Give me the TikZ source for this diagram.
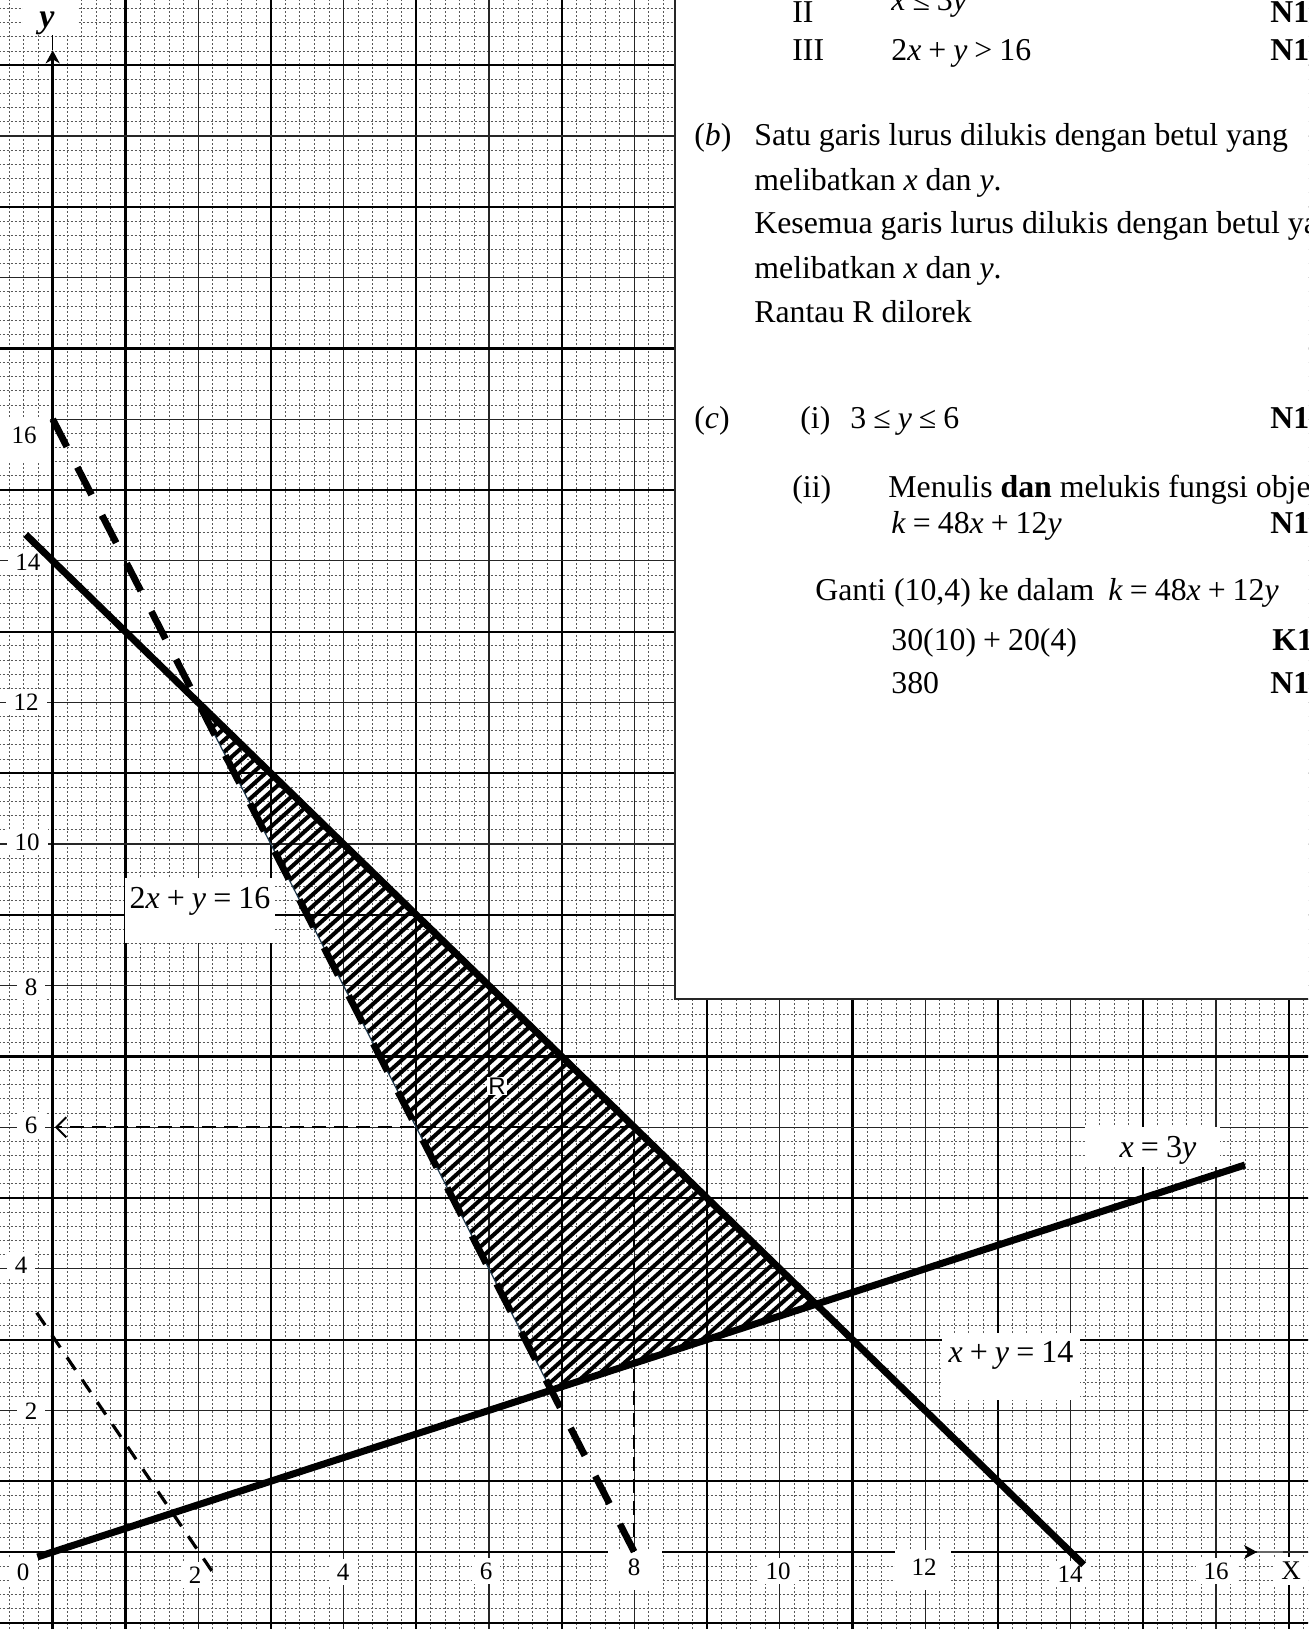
\documentclass[tikz,border=0pt]{standalone}
\usepackage{fontspec}
\setmainfont{Liberation Serif}
\newfontfamily\labsans{Liberation Sans}
\usetikzlibrary{arrows.meta}
\newcommand{\vv}[1]{\textit{#1}}
\newcommand{\gq}{\hspace{0.22em}}
\tikzset{
  G/.style={shift={(52.7,1552)},x=36.35pt,y=35.4pt},
  minor/.style={black!65, line width=0.4pt, dash pattern=on 1.1pt off 0.9pt},
  majthick/.style={black, line width=1.1pt},
  majthin/.style={black!85, line width=0.6pt},
  axisline/.style={black, line width=1.3pt},
  heavy/.style={black, line width=3.5pt},
  heavydash/.style={black, line width=3.4pt, dash pattern=on 15.5pt off 11.5pt},
  thindash/.style={black, line width=1pt, dash pattern=on 7pt off 4pt},
  objdash/.style={black, line width=1.6pt, dash pattern=on 7.5pt off 6pt},
  hatchline/.style={black, line width=2pt},
  tick/.style={fill=white, inner xsep=4pt, inner ysep=2.5pt, font=\fontsize{12.5}{14}\selectfont},
  eqlabel/.style={font=\fontsize{16}{19}\selectfont, inner sep=0pt, anchor=base},
  txt/.style={font=\fontsize{15.9}{19}\selectfont, inner sep=0pt, anchor=base west},
  whitebox/.style={fill=white, draw=none}
}
\begin{document}
\begin{tikzpicture}[x=0.5pt,y=-0.5pt]
\useasboundingbox (0,0) rectangle (1308,1629);
\clip (0,0) rectangle (1308,1629);
\fill[white] (0,0) rectangle (1308,1629);

% ---------- graph paper ----------
\begin{scope}[G]
  \foreach \i in {-3,...,86} \draw[minor] ({\i/5},-1.2) -- ({\i/5},22);
  \foreach \i in {-5,...,109} \draw[minor] (-0.8,{\i/5}) -- (17.4,{\i/5});
  \foreach \k in {1,...,17} {\ifodd\k \draw[majthick] (\k,-1.2) -- (\k,22); \else \draw[majthin] (\k,-1.2) -- (\k,22); \fi}
  \foreach \k in {-1,...,21} {\ifodd\k \draw[majthick] (-0.8,\k) -- (17.4,\k); \else \draw[majthin] (-0.8,\k) -- (17.4,\k); \fi}
\end{scope}

% ---------- answer box ----------
\fill[white] (675,-5) rectangle (1315,999);
\draw[black!85, line width=0.7pt] (675,-5) -- (675,999) -- (1315,999);

% ---------- axes ----------
\begin{scope}[G]
  \draw[axisline,-{Stealth[length=6.5pt,width=7pt,inset=2pt]}] (0,-1.2) -- (0,21.21);
  \draw[black, line width=0.6pt] (0,21.21) -- (0,21.43);
  \draw[axisline,-{Stealth[length=6.5pt,width=7pt,inset=2pt]}] (-0.8,0) -- (16.566,0);
  \draw[black!60, line width=0.8pt] (16.566,0) -- (16.92,0);
\end{scope}

% ---------- white label boxes ----------
\fill[whitebox] (23,0) rectangle (77,35);
\fill[whitebox] (0,418) rectangle (50,463);
\fill[whitebox] (608,1550) rectangle (662,1590);
\fill[whitebox] (895,1550) rectangle (951,1590);
\fill[whitebox] (125,878) rectangle (275,943);
\fill[whitebox] (1085,1127) rectangle (1220,1167);
\fill[whitebox] (942,1333) rectangle (1080,1400);

% tick labels
\node[tick] (tx0) at (23,1572) {0};
\node[tick] (tx2) at (195,1575) {2};
\node[tick] (tx4) at (343,1572) {4};
\node[tick] (tx6) at (486,1571) {6};
\node[tick] (tx8) at (634,1567) {8};
\node[tick] (tx10) at (778,1571) {10};
\node[tick] (tx12) at (924,1567) {12};
\node[tick] (tx14) at (1070,1574) {14};
\node[tick] (tx16) at (1216,1571) {16};
\node[tick, font=\fontsize{13.5}{15}\selectfont] (xlab) at (1291,1571) {X};
\node[tick] (ty16) at (24,435) {16};
\node[tick] (ty14) at (28,562) {14};
\node[tick] (ty12) at (26,702) {12};
\node[tick] (ty10) at (27,842) {10};
\node[tick] (ty8) at (31,987) {8};
\node[tick] (ty6) at (31,1125) {6};
\node[tick] (ty4) at (21,1265) {4};
\node[tick] (ty2) at (31,1411) {2};
\node[inner sep=0pt, font=\fontsize{17}{19}\selectfont\bfseries\itshape] (ylab) at (47,23) {y};

% ---------- hatched region R ----------
\begin{scope}
  \clip (198.1,702.4) -- (551.2,1390.2) -- (816.05,1304.2) -- cycle;
  \foreach \a in {-600,-587,...,730} \draw[hatchline] (\a,1400) -- ++(800,-720);
\end{scope}

% ---------- lines ----------
\begin{scope}[G]
  \coordinate (A) at (2,12);
  \coordinate (B) at ({48/7},{16/7});
  \coordinate (C) at (10.5,3.5);
  \draw[line width=0.6pt, color={rgb,255:red,30;green,55;blue,75}] (A) -- (B);
  \draw[heavy] (-0.37,14.37) -- (14.18,-0.18);
  \draw[heavy] (-0.21,-0.07) -- (16.4,5.4667);
  \draw[heavydash] (0,16) -- (8,0);
  \coordinate (P) at (8,6);
  \coordinate (Py) at (0.03,6);
  \coordinate (Px) at (8,0);
  \draw[thindash,-{Straight Barb[length=5pt,width=10pt]}] (P) -- (Py);
  \draw[thindash] (P) -- (Px);
  \draw[objdash] (-0.22,3.38) -- (2.25,-0.36);
\end{scope}

\node[inner sep=0.6pt, fill=white, font=\labsans\fontsize{12}{14}\selectfont] (Rlab) at (497,1086) {R};

% equation labels
\node[eqlabel] (l1) at (200,908) {2\vv{x}\gq+\gq\vv{y}\gq=\gq16};
\node[eqlabel] (l2) at (1158,1157) {\vv{x}\gq=\gq3\vv{y}};
\node[eqlabel] (l3) at (1011,1362) {\vv{x}\gq+\gq\vv{y}\gq=\gq14};

% ---------- answer text ----------
\node[txt] (r2a) at (792,22) {II};
\node[txt] (r2b) at (891,10) {\vv{x}\gq≤\gq3\vv{y}};
\node[txt] (r2c) at (1270,22) {\textbf{N1}};
\node[txt] (r3a) at (792,60) {III};
\node[txt] (r3b) at (891,60) {2\vv{x}\gq+\gq\vv{y}\gq>\gq16};
\node[txt] (r3c) at (1270,60) {\textbf{N1}};
\node[txt] (b0) at (694,145) {(\vv{b})};
\node[txt] (b1) at (754,145) {Satu garis lurus dilukis dengan betul yang};
\node[txt] (b2) at (754,190) {melibatkan \vv{x} dan \vv{y}.};
\node[txt] (b3) at (754,233) {Kesemua garis lurus dilukis dengan betul yang};
\node[txt] (b4) at (754,278) {melibatkan \vv{x} dan \vv{y}.};
\node[txt] (b5) at (754,322) {Rantau R dilorek};
\node[txt] (c0) at (694,428) {(\vv{c})};
\node[txt] (c1) at (800,428) {(i)};
\node[txt] (c2) at (850,428) {3\gq≤\gq\vv{y}\gq≤\gq6};
\node[txt] (c3) at (1270,428) {\textbf{N1}};
\node[txt] (d0) at (792,497) {(ii)};
\node[txt] (d1) at (888,497) {Menulis \textbf{dan} melukis fungsi objektif};
\node[txt] (d2) at (891,533) {\vv{k}\gq=\gq48\vv{x}\gq+\gq12\vv{y}};
\node[txt] (d3) at (1270,533) {\textbf{N1}};
\node[txt] (e0) at (815,600) {Ganti (10,4) ke dalam};
\node[txt] (e1) at (1108,600) {\vv{k}\gq=\gq48\vv{x}\gq+\gq12\vv{y}};
\node[txt] (f0) at (891,650) {30(10)\gq+\gq20(4)};
\node[txt] (f1) at (1272,650) {\textbf{K1}};
\node[txt] (g0) at (891,693) {380};
\node[txt] (g1) at (1270,693) {\textbf{N1}};
\end{tikzpicture}
\end{document}
